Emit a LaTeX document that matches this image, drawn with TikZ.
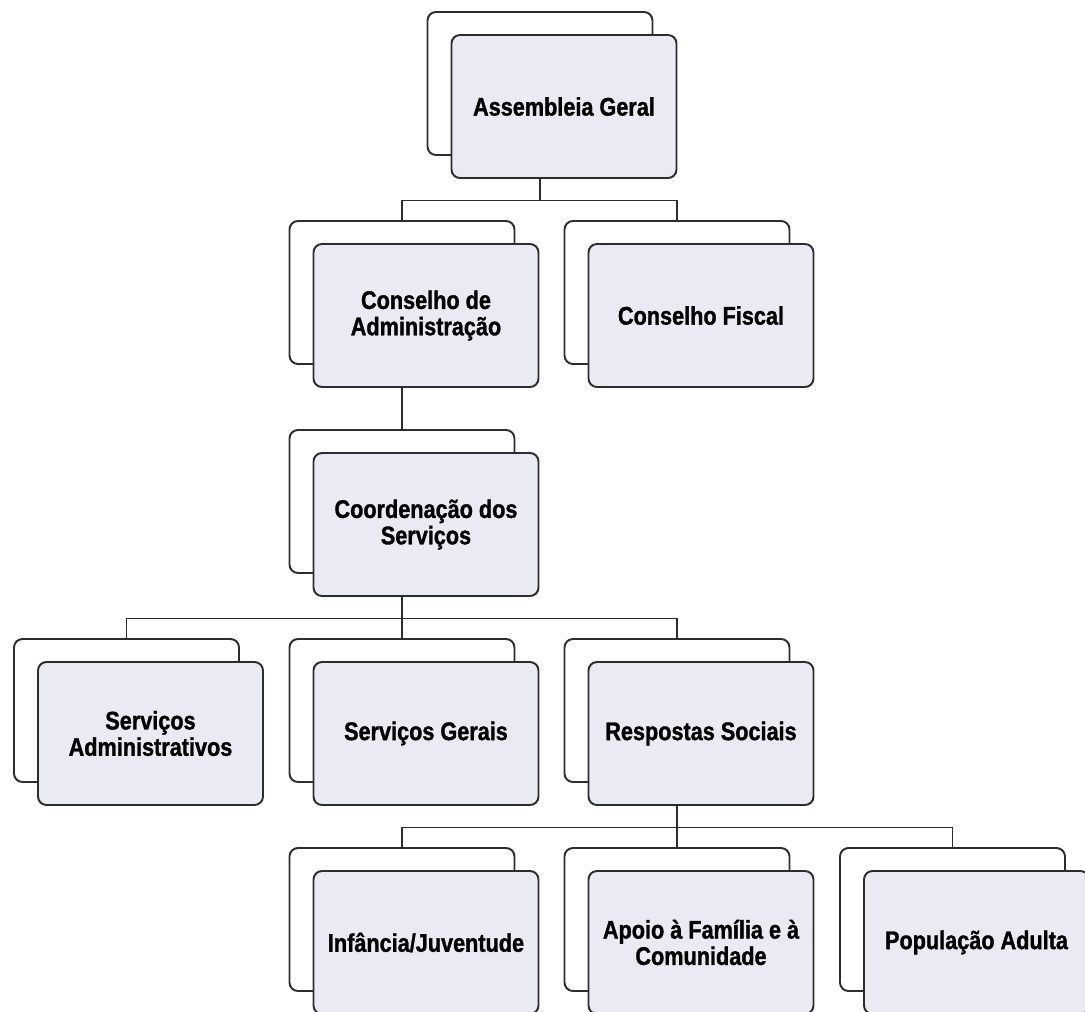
\documentclass[tikz,border=0pt]{standalone}
\usepackage{fontspec}
\usepackage{tikz}
\usetikzlibrary{positioning}
\newfontfamily\boxfont[FakeStretch=0.85, BoldFeatures={FakeBold=1.2}]{Liberation Sans}
\definecolor{boxfill}{RGB}{234,234,244}
\definecolor{boxline}{RGB}{45,45,45}
\tikzstyle{every node}+=[inner sep=0pt]
\tikzstyle{backbox} = [rectangle, draw=boxline, fill=white, line width=1.1pt, rounded corners=0.17cm, minimum width=4.5cm, minimum height=2.86cm]
\tikzstyle{frontbox} = [backbox, fill=boxfill, align=center, font=\boxfont\bfseries\fontsize{14.5pt}{15pt}\selectfont, node distance=0.48cm, yshift=-0.46cm]
\tikzstyle{wire} = [draw=boxline, line width=1.1pt]

\begin{document}
\begin{tikzpicture}[node distance = 4.18cm]
            \clip (-10.8,1.67) rectangle (10.9,-18.55);
            % Place nodes
            \node [backbox] (ag) {};
            \node [frontbox, right of=ag] (agt) {Assembleia Geral};
            \node [backbox, below of=ag, xshift=-2.76cm] (ca) {};
            \node [frontbox, right of=ca] (cat) {Conselho de\\Administração};
            \node [backbox, below of=ag, xshift=2.74cm] (cf) {};
            \node [frontbox, right of=cf] (cft) {Conselho Fiscal};
            \node [backbox, below of=ca] (cs) {};
            \node [frontbox, right of=cs] (cst) {Coordenação dos\\Serviços};
            \node [backbox, below of=cs, xshift=-5.51cm] (sa) {};
            \node [frontbox, right of=sa] (sat) {Serviços\\Administrativos};
            \node [backbox, below of=cs] (sg) {};
            \node [frontbox, right of=sg] (sgt) {Serviços Gerais};
            \node [backbox, below of=cs, xshift=5.5cm] (rs) {};
            \node [frontbox, right of=rs] (rst) {Respostas Sociais};
            \node [backbox, below of=rs, xshift=-5.5cm] (ij) {};
            \node [frontbox, right of=ij] (ijt) {Infância/Juventude};
            \node [backbox, below of=rs] (af) {};
            \node [frontbox, right of=af] (aft) {Apoio à Família e à\\Comunidade};
            \node [backbox, below of=rs, xshift=5.51cm] (pa) {};
            \node [frontbox, right of=pa] (pat) {População Adulta};
            % Draw edges
            \path [wire] (ag |- agt.south) -- ++(0,-0.43) -| (ca.north);
            \path [wire] (ag |- agt.south) -- ++(0,-0.43) -| (cf.north);
            \path [wire] (ca |- cat.south) -- (cs.north);
            \path [wire] (cs |- cst.south) -- ++(0,-0.43) -| (sa.north);
            \path [wire] (cs |- cst.south) -- (sg.north);
            \path [wire] (cs |- cst.south) -- ++(0,-0.43) -| (rs.north);
            \path [wire] (rs |- rst.south) -- ++(0,-0.43) -| (ij.north);
            \path [wire] (rs |- rst.south) -- (af.north);
            \path [wire] (rs |- rst.south) -- ++(0,-0.43) -| (pa.north);
          \end{tikzpicture}
\end{document}
